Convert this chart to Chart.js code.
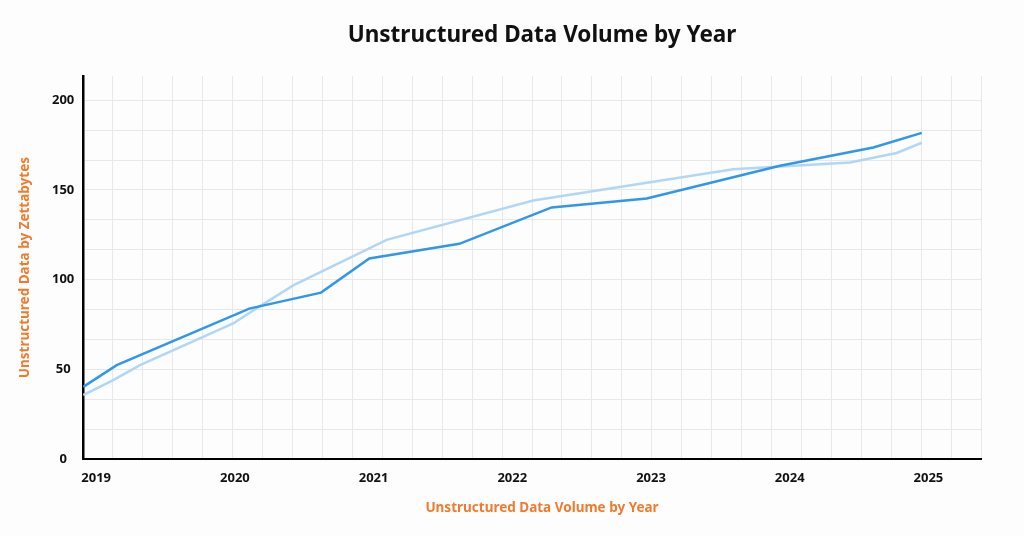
<!DOCTYPE html>
<html>
<head>
<meta charset="utf-8">
<script src="https://cdn.jsdelivr.net/npm/chart.js@4/dist/chart.umd.min.js"></script>
<style>
  html, body { margin: 0; padding: 0; background: #fdfdfd; }
  .wrap { width: 1024px; height: 536px; }
</style>
</head>
<body>
<div class="wrap"><canvas class="graph"></canvas></div>
<script>
// first series (darker line)
let darkYears = [2018.907, 2019.148, 2020.104, 2020.621, 2020.969, 2021.618, 2022.284, 2022.969, 2023.93, 2024.603, 2024.952];
let darkValues = [40.3, 52.4, 83.9, 92.8, 111.8, 120.0, 140.3, 145.3, 163.5, 173.7, 181.8];

// second series (light line)
let lightYears = [2018.907, 2019.123, 2019.316, 2019.988, 2020.133, 2020.421, 2021.094, 2022.151, 2023.593, 2024.435, 2024.771, 2024.952];
let lightValues = [35.7, 44.1, 52.4, 75.6, 82.9, 96.8, 122.2, 144.1, 161.5, 165.3, 170.6, 176.3];

let yearTicks = [2019, 2020, 2021, 2022, 2023, 2024, 2025];

const orange = "#ef7b2d";
const fontFam = "'Noto Sans', sans-serif";

const toPoints = (xs, ys) => xs.map((x, i) => ({ x: x, y: ys[i] }));

const graph = new Chart(document.querySelector(".graph"), {
  type: "line",
  data: {
    datasets: [
      {
        label: "Series 1",
        data: toPoints(darkYears, darkValues),
        borderColor: "#3197eb",
        borderWidth: 2.5,
        pointRadius: 0,
        tension: 0,
        xAxisID: "x",
      },
      {
        label: "Series 2",
        data: toPoints(lightYears, lightValues),
        borderColor: "#b1d7f6",
        borderWidth: 2.5,
        pointRadius: 0,
        tension: 0,
        xAxisID: "x",
      },
    ],
  },
  options: {
    responsive: true,
    maintainAspectRatio: false,
    animation: false,
    layout: {
      padding: { left: 60, right: 0, top: 0, bottom: 0 },
    },
    plugins: {
      legend: { display: false },
      tooltip: { enabled: false },
      title: {
        display: true,
        text: "Unstructured Data Volume by Year",
        color: "#111",
        font: { family: fontFam, size: 22.5, weight: "bold" },
        padding: { top: 22, bottom: 27 },
      },
      // x axis caption, drawn as a bottom subtitle so it centres like the title
      subtitle: {
        display: true,
        position: "bottom",
        text: "Unstructured Data Volume by Year",
        color: orange,
        font: { family: fontFam, size: 13.5, weight: "bold" },
        padding: { top: 3, bottom: 20 },
      },
    },
    scales: {
      xg: {
        type: "linear",
        position: "bottom",
        weight: 0,
        min: 0,
        max: 30,
        ticks: { display: false, stepSize: 1, autoSkip: false },
        grid: { color: "#e8e8e8", drawTicks: false },
        border: { display: true, color: "#000", width: 2 },
      },
      x: {
        type: "linear",
        position: "bottom",
        weight: 1,
        min: 2018.905,
        max: 2025.379,
        afterBuildTicks: (scale) => {
          scale.ticks = yearTicks.map((v) => ({ value: v }));
        },
        ticks: {
          color: "#111",
          font: { family: fontFam, size: 13, weight: "bold" },
          padding: 11,
          callback: (v) => String(v),
        },
        grid: { display: false, drawTicks: false },
        border: { display: false },
      },
      y: {
        min: 0,
        max: 213.5,
        afterFit: (scale) => {
          scale.width = 23;
        },
        ticks: {
          stepSize: 50 / 3,
          includeBounds: false,
          autoSkip: false,
          // mirrored with a negative padding so the labels sit left of the
          // axis without being clipped to the narrow scale box
          mirror: true,
          crossAlign: "center",
          padding: -31,
          color: "#111",
          font: { family: fontFam, size: 13, weight: "bold" },
          callback: (v) => {
            let r = Math.round(v);
            return Math.abs(v - r) < 0.01 && r % 50 === 0 ? r : "";
          },
        },
        grid: { color: "#e8e8e8", drawTicks: false },
        border: { display: true, color: "#000", width: 2.5 },
        title: {
          display: true,
          text: "Unstructured Data by Zettabytes",
          color: orange,
          font: { family: fontFam, size: 13.5, weight: "bold" },
          // pulled left past the padded edge
          padding: { top: -43, bottom: 0 },
        },
      },
      // empty strip on the right
      yr: {
        position: "right",
        afterFit: (scale) => {
          scale.width = 43;
        },
        ticks: { display: false },
        grid: { display: false, drawTicks: false },
        border: { display: false },
      },
    },
  },
});
</script>
</body>
</html>
